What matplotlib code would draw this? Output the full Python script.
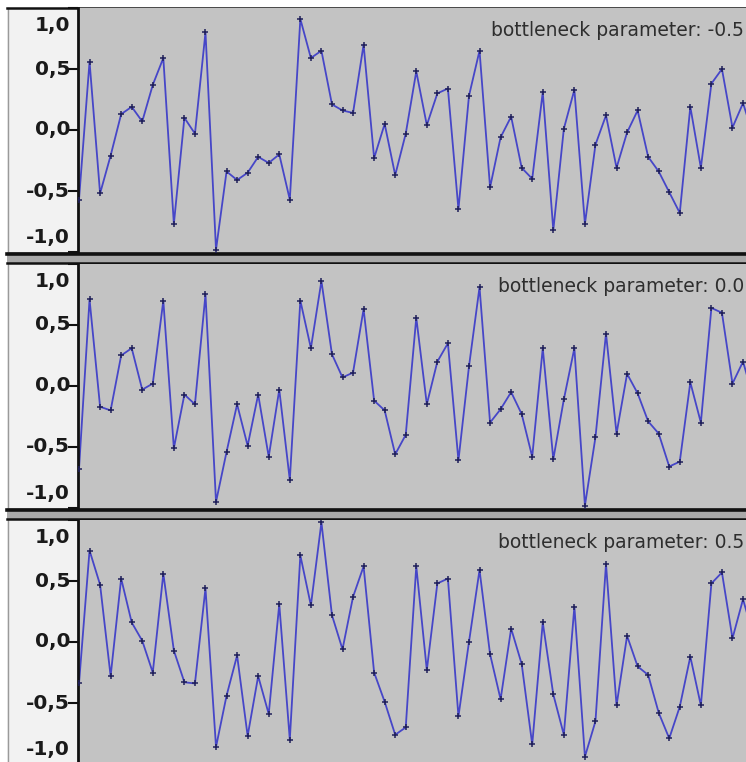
import numpy as np
import matplotlib.pyplot as plt
from matplotlib.patches import Rectangle

# sample values of the three tracks (one sample per index)
wave_neg = [-0.57, 0.56, -0.52, -0.21, 0.13, 0.19, 0.07, 0.37, 0.59, -0.77,
            0.10, -0.03, 0.80, -0.98, -0.34, -0.41, -0.35, -0.22, -0.27, -0.20,
            -0.57, 0.91, 0.59, 0.65, 0.21, 0.16, 0.14, 0.70, -0.23, 0.05,
            -0.37, -0.03, 0.48, 0.04, 0.30, 0.34, -0.65, 0.28, 0.65, -0.47,
            -0.06, 0.11, -0.31, -0.40, 0.31, -0.82, 0.01, 0.33, -0.77, -0.12,
            0.12, -0.31, -0.02, 0.16, -0.22, -0.34, -0.51, -0.68, 0.19, -0.31,
            0.38, 0.50, 0.02, 0.22, -0.05]
wave_zero = [-0.68, 0.71, -0.17, -0.20, 0.25, 0.31, -0.03, 0.02, 0.70, -0.51,
             -0.07, -0.15, 0.75, -0.95, -0.54, -0.15, -0.49, -0.07, -0.58, -0.03,
             -0.77, 0.70, 0.31, 0.86, 0.26, 0.07, 0.11, 0.63, -0.12, -0.20,
             -0.56, -0.40, 0.56, -0.15, 0.20, 0.35, -0.61, 0.16, 0.81, -0.30,
             -0.19, -0.05, -0.23, -0.58, 0.31, -0.60, -0.11, 0.31, -0.98, -0.42,
             0.43, -0.39, 0.10, -0.06, -0.29, -0.39, -0.66, -0.62, 0.03, -0.30,
             0.64, 0.60, 0.02, 0.20, -0.10]
wave_pos = [-0.34, 0.75, 0.47, -0.28, 0.52, 0.16, 0.01, -0.25, 0.56, -0.07,
            -0.33, -0.34, 0.44, -0.86, -0.44, -0.11, -0.77, -0.28, -0.59, 0.31,
            -0.80, 0.71, 0.30, 0.98, 0.22, -0.06, 0.37, 0.62, -0.25, -0.49,
            -0.76, -0.70, 0.62, -0.23, 0.48, 0.52, -0.61, 0.00, 0.59, -0.10,
            -0.47, 0.11, -0.18, -0.84, 0.16, -0.43, -0.76, 0.29, -0.94, -0.65,
            0.64, -0.52, 0.05, -0.20, -0.27, -0.58, -0.79, -0.53, -0.12, -0.52,
            0.48, 0.57, 0.03, 0.35, 0.05]

tracks = [wave_neg, wave_zero, wave_pos]
titles = ['bottleneck parameter: -0.5', 'bottleneck parameter: 0.0',
          'bottleneck parameter: 0.5']
ruler_ticks = [1.0, 0.5, 0.0, -0.5, -1.0]
ruler_labels = ['1,0', '0,5', '0,0', '-0,5', '-1,0']

W, H = 746, 762
fig = plt.figure(figsize=(W / 100, H / 100), dpi=100)
fig.patch.set_facecolor('white')

# pixel-space background layer for the ruler panels and track separators
bg = fig.add_axes([0, 0, 1, 1])
bg.set_xlim(0, W)
bg.set_ylim(H, 0)
bg.axis('off')

track_top = [8, 264, 520]
track_h = 244
left, right = 78, W

for top in track_top:
    bg.add_patch(Rectangle((7, top), left - 7, track_h, facecolor='#f2f2f2',
                           edgecolor='none'))
    bg.plot([7.5, 7.5], [top, top + track_h], color='#9a9a9a', lw=1)
for top in track_top[:2]:
    y0 = top + track_h
    bg.add_patch(Rectangle((7, y0), W - 7, 12, facecolor='#a9a9a9',
                           edgecolor='none'))
    bg.plot([7, W], [y0 + 1.5, y0 + 1.5], color='#111111', lw=2.6)
    bg.plot([7, W], [y0 + 11, y0 + 11], color='#111111', lw=1.8)
bg.plot([7, W], [7.5, 7.5], color='#111111', lw=1.8)

xmin = -1 / 10.54
xmax = xmin + (right - left) / 10.54

for top, vals, title in zip(track_top, tracks, titles):
    ax = fig.add_axes([left / W, 1 - (top + track_h) / H,
                       (right - left) / W, track_h / H])
    ax.set_facecolor('#c3c3c3')
    x = np.arange(len(vals))
    ax.plot(x, vals, color='#4646c8', lw=1.3, zorder=2)
    ax.plot(x, vals, ls='none', marker='+', ms=5, mew=1.1,
            color='#20205a', zorder=3)
    ax.set_xlim(xmin, xmax)
    ax.set_ylim(-1, 1)
    ax.set_xticks([])
    ax.set_yticks(ruler_ticks)
    ax.set_yticklabels([])
    ax.tick_params(axis='y', direction='out', length=7, width=1.5,
                   color='#111111')
    for side in ['top', 'right', 'bottom']:
        ax.spines[side].set_visible(False)
    ax.spines['left'].set_color('#111111')
    ax.spines['left'].set_linewidth(2)

    # ruler numbers; the end labels sit inside the track
    shifts = [-18, 0, 0, 0, 14]
    for val, lab, dy in zip(ruler_ticks, ruler_labels, shifts):
        ax.annotate(lab, xy=(0, val), xycoords=('axes fraction', 'data'),
                    xytext=(-8, dy), textcoords='offset pixels',
                    ha='right', va='center', fontsize=14.5, fontweight='bold',
                    family='DejaVu Sans', color='#1a1a1a',
                    annotation_clip=False)

    ax.annotate(title, xy=(1, 1), xycoords='axes fraction',
                xytext=(-2, -28), textcoords='offset pixels',
                ha='right', va='baseline', fontsize=13.5,
                family='DejaVu Sans', color='#2e2e2e',
                annotation_clip=False)

fig.savefig('out.png', dpi=100)
